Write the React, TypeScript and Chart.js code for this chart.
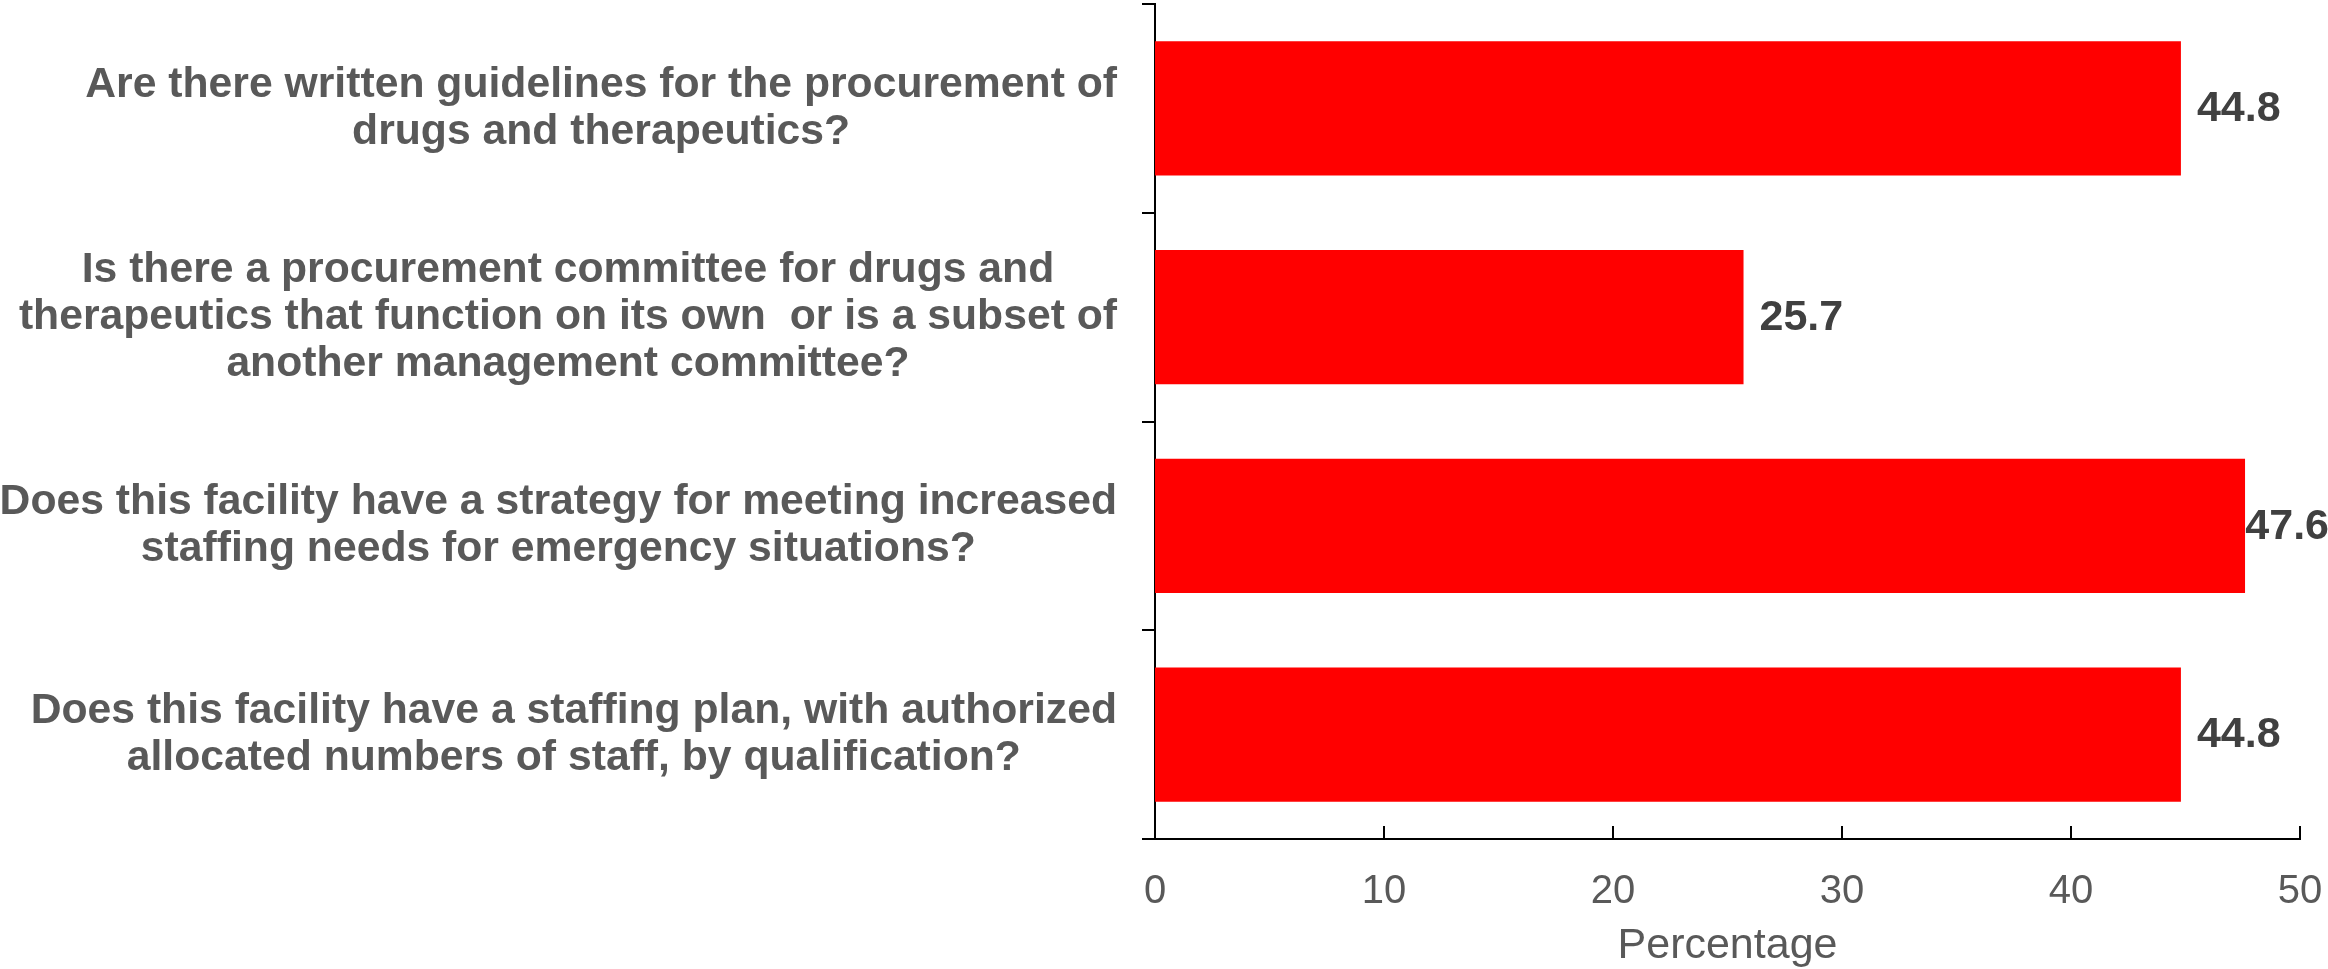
import React, { useEffect, useRef } from "react";
import { Chart, registerables } from "chart.js";

Chart.register(...registerables);

const categories: string[][] = [
  ["Are there written guidelines for the procurement of", "drugs and therapeutics?"],
  [
    "Is there a procurement committee for drugs and",
    "therapeutics that function on its own  or is a subset of",
    "another management committee?",
  ],
  ["Does this facility have a strategy for meeting increased", "staffing needs for emergency situations?"],
  ["Does this facility have a staffing plan, with authorized", "allocated numbers of staff, by qualification?"],
];
const values: number[] = [44.8, 25.7, 47.6, 44.8];
const xTicks: number[] = [0, 10, 20, 30, 40, 50];
const axisTitle = "Percentage";

const FONT = "'Liberation Sans', Arial, sans-serif";

const drawPlugin = {
  id: "customDraw",
  afterDraw(chart: any) {
    const ctx = chart.ctx as CanvasRenderingContext2D;
    const x = chart.scales.x;
    const y = chart.scales.y;
    const area = chart.chartArea;
    ctx.save();
    // inward x ticks
    ctx.strokeStyle = "#000";
    ctx.lineWidth = 2;
    xTicks.forEach((v) => {
      const px = Math.round(x.getPixelForValue(v));
      ctx.beginPath();
      ctx.moveTo(px, area.bottom);
      ctx.lineTo(px, area.bottom - 13);
      ctx.stroke();
    });
    // category labels: block right-aligned, lines centered
    ctx.font = `bold 42.7px ${FONT}`;
    ctx.fillStyle = "#595959";
    ctx.textAlign = "center";
    ctx.textBaseline = "middle";
    categories.forEach((lines, i) => {
      const cy = y.getPixelForValue(i);
      const w = Math.max(...lines.map((l) => ctx.measureText(l).width));
      const right = area.left - 38;
      const cx = right - w / 2;
      const lh = 47;
      lines.forEach((l, j) => ctx.fillText(l, cx, cy + (j - (lines.length - 1) / 2) * lh));
    });
    // value labels (kept inside the canvas)
    ctx.font = `bold 43px ${FONT}`;
    ctx.fillStyle = "#404040";
    ctx.textAlign = "left";
    const meta = chart.getDatasetMeta(0);
    meta.data.forEach((bar: any, i: number) => {
      const txt = values[i].toFixed(1);
      const w = ctx.measureText(txt).width;
      const tx = Math.min(bar.x + 16, chart.width - w + 1);
      ctx.fillText(txt, tx, bar.y + 1);
    });
    ctx.restore();
  },
};

export default function App() {
  const ref = useRef<HTMLCanvasElement | null>(null);
  useEffect(() => {
    if (!ref.current) return;
    const chart = new Chart(ref.current, {
      type: "bar",
      data: {
        labels: categories.map((c) => c.join(" ")),
        datasets: [
          {
            data: values,
            backgroundColor: "#FF0000",
            borderWidth: 0,
            barPercentage: 0.642,
            categoryPercentage: 1,
          },
        ],
      },
      options: {
        indexAxis: "y",
        animation: false,
        responsive: false,
        layout: { padding: { top: 4, right: 28, left: 0, bottom: 0 } },
        plugins: {
          legend: { display: false },
          tooltip: { enabled: false },
        },
        scales: {
          x: {
            type: "linear",
            min: 0,
            max: 50,
            afterFit: (s: any) => {
              s.height = 130;
            },
            ticks: {
              stepSize: 10,
              padding: 0,
              color: "#595959",
              font: { family: FONT, size: 40 },
            },
            grid: { display: false, drawTicks: true, tickLength: 29 },
            border: { display: true, color: "#000", width: 2 },
            title: {
              display: true,
              text: axisTitle,
              color: "#595959",
              font: { family: FONT, size: 43, lineHeight: 1.05 },
              padding: { top: 0, bottom: 0 },
            },
          },
          y: {
            type: "category",
            afterFit: (s: any) => {
              s.width = 1155;
            },
            ticks: { display: false },
            grid: {
              display: true,
              offset: true,
              drawOnChartArea: false,
              drawTicks: true,
              tickLength: 13,
              color: "#000",
              lineWidth: 2,
            },
            border: { display: true, color: "#000", width: 2 },
          },
        },
      },
      plugins: [drawPlugin],
    });
    return () => chart.destroy();
  }, []);
  return (
    <div style={{ position: "absolute", left: 0, top: 0, width: 2328, height: 969, background: "#fff" }}>
      <canvas ref={ref} width={2328} height={969} style={{ display: "block" }} />
    </div>
  );
}
